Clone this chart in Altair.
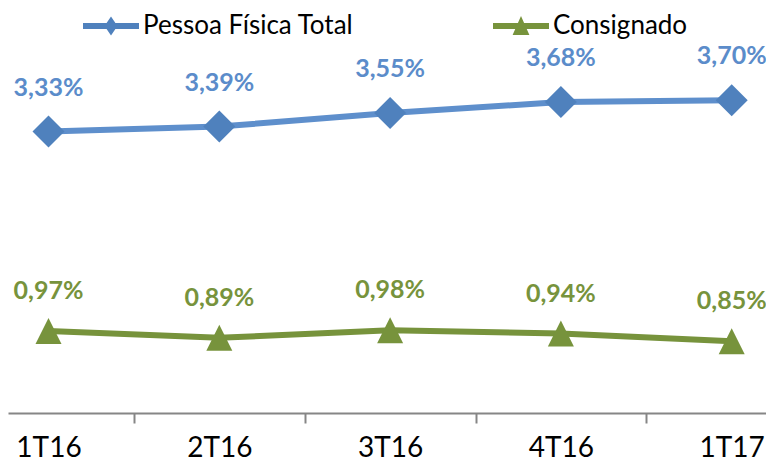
import json
import altair as alt
import pandas as pd

# ---- data ----
periods = ["1T16", "2T16", "3T16", "4T16", "1T17"]
pf_total = [3.33, 3.39, 3.55, 3.68, 3.70]
consignado = [0.97, 0.89, 0.98, 0.94, 0.85]
series_names = ["Pessoa Física Total", "Consignado"]


def fmt(v):
    return f"{v:.2f}%".replace(".", ",")


df_pf = pd.DataFrame({"idx": range(len(periods)), "period": periods,
                      "value": pf_total, "series": series_names[0]})
df_pf["label"] = df_pf["value"].map(fmt)
df_cs = pd.DataFrame({"idx": range(len(periods)), "period": periods,
                      "value": consignado, "series": series_names[1]})
df_cs["label"] = df_cs["value"].map(fmt)
df_all = pd.concat([df_pf, df_cs], ignore_index=True)

# ---- styling ----
BLUE_LINE = "#5E8FCC"
BLUE_MARK = "#4F81BD"
BLUE_TEXT = "#5B8CCA"
GREEN = "#77933C"
AXIS_GREY = "#868686"
FONT = "Lato"

W, H = 758, 405

xscale = alt.Scale(domain=[-0.2371, 4.2008], nice=False, zero=False)
yscale = alt.Scale(domain=[0, 4.793], nice=False, zero=True)

tick_values = [0, 0.5, 1, 1.5, 2, 2.5, 3, 3.5, 4]
label_expr = ("datum.value % 1 == 0 ? " + json.dumps(periods) +
              "[datum.value] : ''")

x_axis = alt.Axis(
    values=tick_values, labelExpr=label_expr, title=None, grid=False,
    domainColor=AXIS_GREY, domainWidth=2,
    tickColor=AXIS_GREY, tickWidth=2, tickSize=10,
    tickOpacity={"condition": {"test": "datum.value % 1 == 0", "value": 0}, "value": 1},
    labelFont=FONT, labelFontSize=28, labelColor="#000000",
    labelBaseline="alphabetic", labelPadding=33,
    labelOverlap=False, labelFlush=False,
)

X = alt.X("idx:Q", scale=xscale, axis=x_axis)
Y = alt.Y("value:Q", scale=yscale, axis=None)

TRIANGLE = "M0,-1L1,1L-1,1Z"


def series_layers(df, line_color, mark_color, text_color, shape, size, dy):
    base = alt.Chart(df)
    line = base.mark_line(color=line_color, strokeWidth=6).encode(x=X, y=Y)
    pts = base.mark_point(filled=True, fill=mark_color, opacity=1, strokeWidth=0,
                          shape=shape, size=size).encode(x=X, y=Y)
    txt = base.mark_text(font=FONT, fontSize=25, fontWeight="bold", color=text_color,
                         baseline="alphabetic", dy=dy).encode(x=X, y=Y, text="label:N")
    return [line, pts, txt]


layers = []
layers += series_layers(df_pf, BLUE_LINE, BLUE_MARK, BLUE_TEXT, "diamond", 1024, -36)
layers += series_layers(df_cs, GREEN, GREEN, GREEN, TRIANGLE, 676, -32)

# legend-only layer (line stub + marker symbols)
LEG_DIAMOND = "M-1,-0.107H1V0.107H-1Z M0,-0.34L0.23,0L0,0.34L-0.23,0Z"
LEG_TRIANGLE = "M-1,-0.107H1V0.107H-1Z M0,-0.36L0.3,0.32L-0.3,0.32Z"
legend = alt.Legend(
    orient="none", legendX=75, legendY=-10, direction="horizontal", title=None,
    labelFont=FONT, labelFontSize=26, labelColor="#000000", labelOffset=4,
    columnPadding=139, padding=0, symbolSize=3136, symbolStrokeWidth=0,
    symbolOpacity=1, labelLimit=0,
)
leg_layer = alt.Chart(df_all).transform_filter("false").mark_point(
    filled=True, opacity=1, strokeWidth=0
).encode(
    x=X, y=Y,
    color=alt.Color("series:N", scale=alt.Scale(domain=series_names, range=[BLUE_MARK, GREEN]),
                    legend=legend, sort=series_names),
    shape=alt.Shape("series:N", scale=alt.Scale(domain=series_names,
                                                range=[LEG_DIAMOND, LEG_TRIANGLE]),
                    legend=legend, sort=series_names),
)
layers.append(leg_layer)

chart = alt.layer(*layers).properties(
    width=W, height=H,
    autosize=alt.AutoSizeParams(type="none"),
    padding={"left": 0, "top": 0, "right": 0, "bottom": 50},
    background="white",
).configure_view(stroke=None)

chart.save("out.html", embed_options={"renderer": "svg", "actions": False})
